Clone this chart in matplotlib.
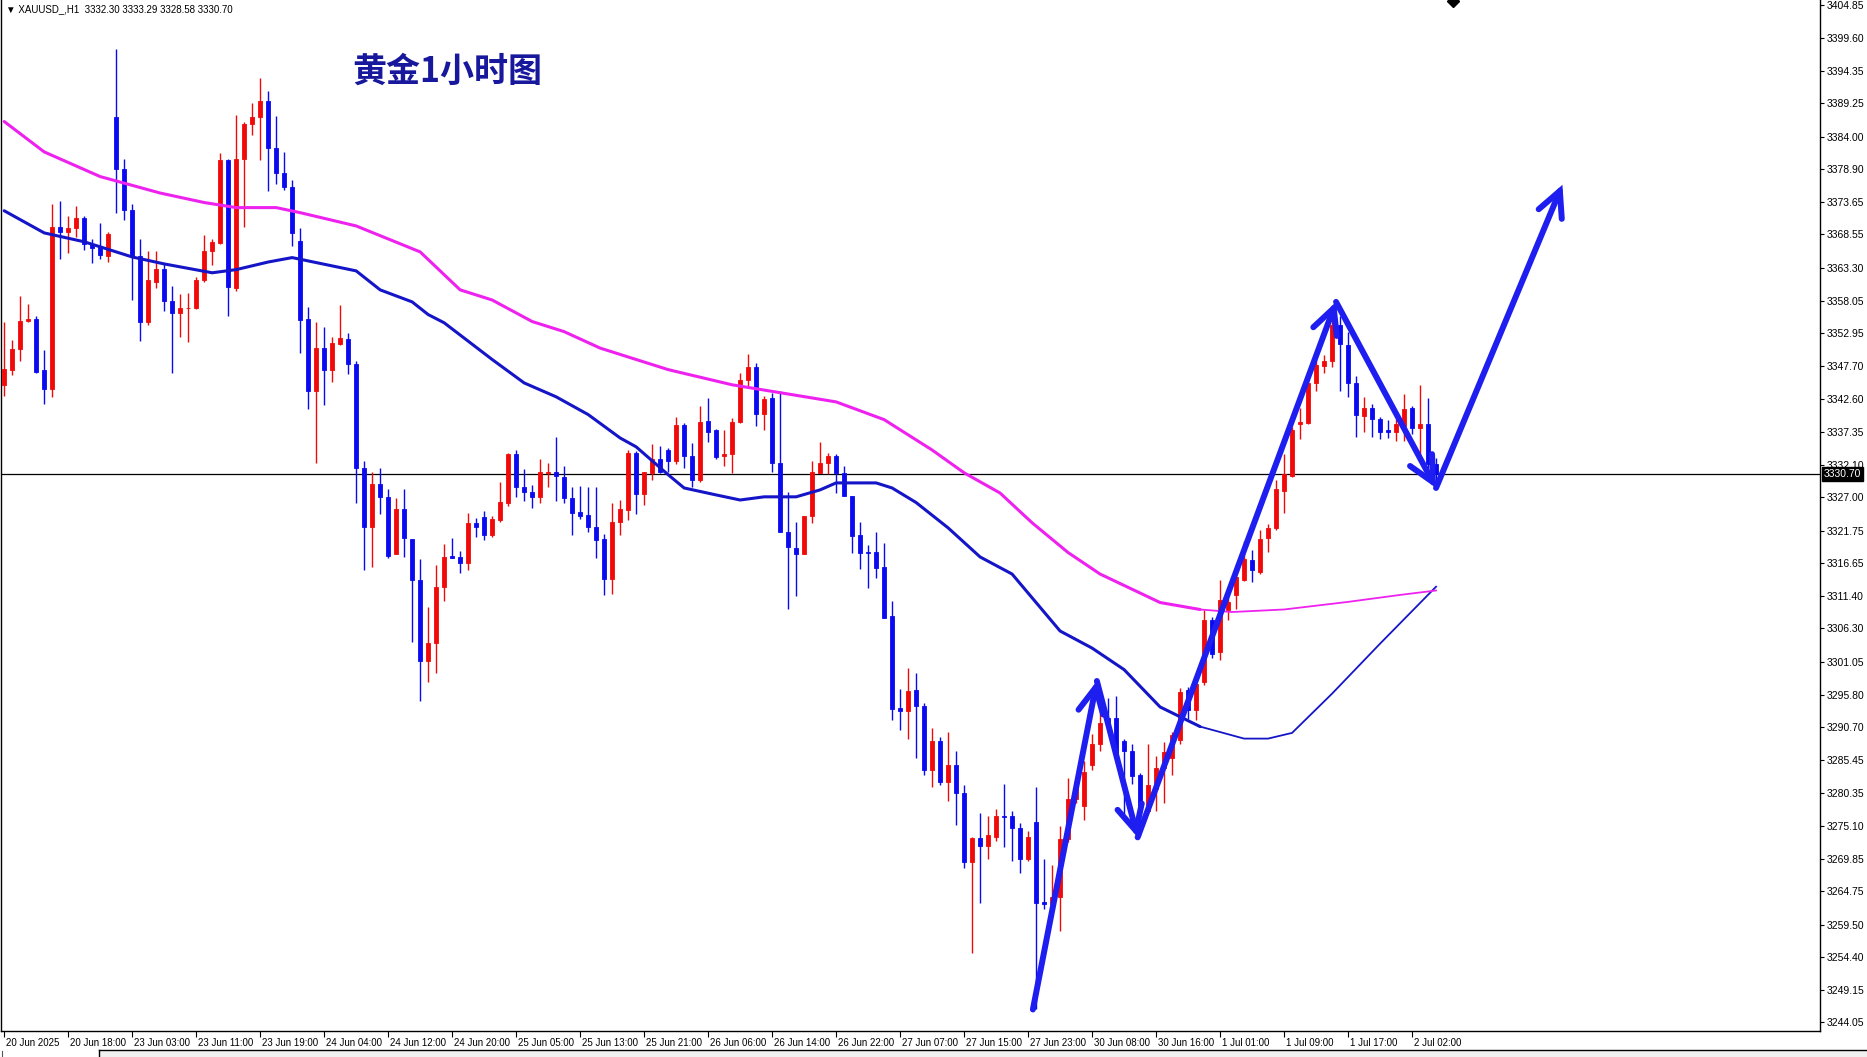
import matplotlib
matplotlib.use('Agg')
import matplotlib.pyplot as plt
import matplotlib.transforms as mtransforms
from matplotlib.lines import Line2D
from matplotlib.patches import Rectangle

# XAUUSD H1 bars (one per hour, 20 Jun 10:00 .. 2 Jul 05:00)
opens = [3344.7, 3347.2, 3350.4, 3354.9, 3355.2, 3347.2, 3344.1, 3369.7, 3368.9, 3369.6,
         3371.1, 3367.1, 3366.7, 3365.2, 3387.1, 3378.9, 3372.4, 3365.1, 3354.8, 3361.1,
         3363.1, 3358.1, 3356.2, 3356.9, 3356.9, 3361.3, 3365.9, 3367.2, 3380.3, 3360.1,
         3380.5, 3386.0, 3387.1, 3389.7, 3382.2, 3378.2, 3376.1, 3367.5, 3355.2, 3343.8,
         3350.6, 3347.1, 3351.3, 3352.0, 3348.1, 3331.7, 3322.4, 3329.1, 3327.0, 3318.1,
         3325.2, 3320.4, 3313.9, 3301.1, 3304.0, 3312.8, 3317.7, 3317.6, 3316.6, 3323.0,
         3323.9, 3321.1, 3323.5, 3326.2, 3333.9, 3328.6, 3327.9, 3327.1, 3330.8, 3331.1,
         3330.3, 3326.9, 3324.7, 3324.3, 3322.3, 3320.4, 3314.1, 3323.2, 3325.0, 3334.0,
         3327.5, 3330.9, 3333.1, 3334.5, 3332.7, 3338.5, 3333.6, 3329.7, 3339.1, 3337.6,
         3333.5, 3333.8, 3338.9, 3345.5, 3347.6, 3340.2, 3342.7, 3332.5, 3321.6, 3319.0,
         3318.1, 3324.1, 3330.9, 3332.4, 3333.5, 3330.9, 3327.2, 3321.1, 3318.4, 3318.4,
         3316.0, 3308.3, 3293.7, 3293.2, 3296.6, 3294.1, 3283.9, 3288.5, 3282.1, 3284.7,
         3280.3, 3269.4, 3273.2, 3272.0, 3273.4, 3276.7, 3276.7, 3274.8, 3269.9, 3275.8,
         3263.1, 3262.7, 3263.8, 3273.0, 3279.3, 3278.2, 3284.7, 3288.0, 3292.2, 3292.2,
         3288.5, 3286.9, 3283.1, 3277.4, 3280.9, 3284.2, 3285.9, 3288.6, 3296.5, 3293.4,
         3297.9, 3307.6, 3302.6, 3309.2, 3311.6, 3314.0, 3317.1, 3315.3, 3320.6, 3322.2,
         3328.0, 3330.4, 3338.6, 3338.8, 3345.1, 3347.8, 3348.5, 3354.3, 3351.1, 3345.1,
         3339.9, 3341.2, 3339.4, 3337.7, 3337.4, 3338.3, 3341.2, 3337.9, 3338.6, 3332.30]
highs = [3354.8, 3351.9, 3358.8, 3357.5, 3355.6, 3350.3, 3373.4, 3373.8, 3371.5, 3373.0,
         3371.4, 3367.8, 3370.4, 3369.0, 3397.8, 3380.5, 3373.4, 3367.9, 3366.0, 3366.0,
         3363.9, 3360.4, 3359.2, 3359.3, 3361.8, 3368.5, 3367.8, 3381.4, 3380.4, 3387.5,
         3386.4, 3389.4, 3393.3, 3391.3, 3387.3, 3381.6, 3377.2, 3369.6, 3357.1, 3354.8,
         3353.9, 3352.4, 3357.4, 3353.0, 3348.5, 3332.7, 3331.0, 3331.6, 3328.3, 3326.9,
         3328.3, 3320.4, 3317.3, 3309.7, 3316.4, 3319.6, 3320.6, 3318.5, 3324.5, 3323.7,
         3324.9, 3324.1, 3329.5, 3334.0, 3334.5, 3331.5, 3329.0, 3333.1, 3332.5, 3336.6,
         3332.0, 3328.7, 3328.8, 3328.7, 3328.7, 3321.3, 3326.1, 3326.6, 3334.5, 3334.3,
         3331.0, 3335.5, 3335.1, 3334.8, 3339.7, 3338.8, 3335.6, 3341.4, 3342.7, 3337.8,
         3337.7, 3339.5, 3346.7, 3349.7, 3348.2, 3343.1, 3343.5, 3343.8, 3327.9, 3323.2,
         3324.1, 3332.7, 3335.7, 3334.1, 3333.9, 3331.9, 3327.2, 3323.2, 3319.5, 3321.5,
         3319.8, 3310.6, 3296.8, 3300.1, 3299.2, 3294.5, 3290.5, 3289.1, 3289.9, 3286.9,
         3281.5, 3273.4, 3277.1, 3276.6, 3277.7, 3281.8, 3277.4, 3275.6, 3274.3, 3281.2,
         3269.9, 3269.0, 3275.1, 3282.6, 3282.8, 3285.3, 3289.6, 3295.3, 3295.3, 3295.6,
         3288.8, 3288.0, 3283.4, 3288.0, 3286.1, 3288.3, 3289.9, 3296.9, 3297.0, 3298.2,
         3309.2, 3308.1, 3314.0, 3311.8, 3315.3, 3320.1, 3318.7, 3321.9, 3322.8, 3329.8,
         3333.9, 3338.1, 3341.2, 3346.5, 3348.8, 3349.5, 3355.7, 3355.7, 3353.2, 3346.2,
         3342.9, 3341.8, 3339.7, 3339.2, 3339.4, 3343.4, 3341.5, 3344.7, 3342.7, 3333.29]
lows = [3343.0, 3346.4, 3348.5, 3354.7, 3346.7, 3341.8, 3342.8, 3364.6, 3365.6, 3368.2,
        3366.1, 3364.0, 3364.6, 3364.2, 3372.0, 3370.9, 3358.2, 3351.7, 3354.3, 3360.1,
        3356.4, 3346.7, 3352.3, 3351.5, 3356.8, 3361.0, 3363.8, 3367.1, 3355.7, 3359.6,
        3369.8, 3384.3, 3380.3, 3375.4, 3376.6, 3375.6, 3366.7, 3349.9, 3341.0, 3332.5,
        3341.6, 3345.3, 3351.1, 3346.5, 3326.2, 3315.5, 3316.0, 3324.4, 3317.4, 3318.0,
        3317.6, 3304.1, 3294.8, 3297.9, 3299.3, 3310.7, 3317.5, 3315.1, 3315.5, 3320.8,
        3320.3, 3320.8, 3323.1, 3325.7, 3327.1, 3326.4, 3325.3, 3326.2, 3328.6, 3326.4,
        3326.1, 3321.1, 3323.6, 3321.6, 3317.4, 3311.6, 3311.8, 3321.1, 3323.5, 3324.4,
        3325.8, 3329.8, 3330.9, 3331.1, 3332.3, 3331.6, 3328.7, 3329.5, 3335.7, 3333.0,
        3332.0, 3330.9, 3338.8, 3344.3, 3338.3, 3337.6, 3331.1, 3321.5, 3309.4, 3311.4,
        3318.0, 3323.0, 3330.9, 3330.7, 3327.7, 3327.2, 3318.3, 3315.7, 3312.7, 3314.3,
        3307.9, 3291.8, 3290.2, 3288.8, 3285.9, 3283.1, 3281.2, 3281.6, 3279.0, 3275.2,
        3268.5, 3255.1, 3262.9, 3269.8, 3272.7, 3271.8, 3269.6, 3267.6, 3269.5, 3246.2,
        3261.9, 3261.9, 3258.5, 3272.5, 3278.7, 3276.1, 3283.9, 3286.9, 3289.9, 3286.1,
        3276.6, 3281.7, 3273.6, 3277.1, 3277.4, 3278.7, 3283.1, 3288.1, 3292.0, 3291.8,
        3297.3, 3301.7, 3301.3, 3307.6, 3309.4, 3313.8, 3313.6, 3314.9, 3318.4, 3321.9,
        3324.5, 3330.2, 3336.2, 3338.6, 3343.8, 3346.7, 3347.6, 3343.8, 3342.9, 3336.5,
        3337.3, 3336.5, 3336.2, 3336.4, 3335.9, 3335.9, 3337.1, 3332.9, 3331.5, 3328.58]
closes = [3347.3, 3350.4, 3354.9, 3355.2, 3346.8, 3344.1, 3369.7, 3368.9, 3369.6, 3371.1,
          3367.1, 3366.4, 3365.3, 3368.7, 3378.9, 3372.4, 3365.1, 3354.8, 3361.3, 3363.1,
          3358.1, 3356.2, 3356.9, 3357.0, 3361.4, 3366.0, 3367.3, 3380.3, 3360.2, 3380.5,
          3386.0, 3387.1, 3389.7, 3382.2, 3378.2, 3376.1, 3368.8, 3355.1, 3343.8, 3350.6,
          3347.2, 3351.4, 3352.2, 3348.1, 3331.7, 3322.4, 3329.1, 3327.0, 3317.8, 3325.2,
          3320.6, 3313.9, 3301.1, 3304.0, 3312.8, 3317.6, 3317.5, 3316.7, 3323.0, 3322.4,
          3321.0, 3323.6, 3326.3, 3333.9, 3328.6, 3327.8, 3327.1, 3331.0, 3331.0, 3330.4,
          3326.9, 3324.6, 3324.1, 3322.3, 3320.2, 3314.1, 3323.2, 3325.1, 3334.0, 3327.5,
          3331.0, 3333.0, 3331.1, 3332.7, 3338.5, 3333.5, 3329.7, 3339.0, 3337.4, 3333.4,
          3333.9, 3338.9, 3345.6, 3347.6, 3340.2, 3342.5, 3332.5, 3321.6, 3319.2, 3318.1,
          3324.1, 3331.0, 3332.4, 3333.5, 3330.9, 3327.2, 3320.9, 3318.3, 3318.3, 3315.8,
          3308.0, 3293.6, 3293.3, 3296.4, 3294.0, 3283.9, 3288.5, 3282.1, 3284.7, 3280.3,
          3269.4, 3273.2, 3272.0, 3273.6, 3276.6, 3276.5, 3274.8, 3269.9, 3273.4, 3262.9,
          3262.7, 3263.8, 3273.0, 3279.4, 3282.0, 3283.6, 3288.0, 3291.4, 3291.4, 3286.5,
          3286.9, 3283.0, 3277.4, 3281.6, 3284.2, 3286.8, 3289.5, 3296.2, 3293.4, 3297.6,
          3307.6, 3302.2, 3310.8, 3310.5, 3314.5, 3317.3, 3315.5, 3320.4, 3322.2, 3328.3,
          3330.7, 3337.7, 3339.0, 3345.1, 3347.9, 3348.6, 3354.3, 3351.3, 3345.1, 3340.1,
          3341.2, 3339.4, 3337.4, 3337.4, 3338.6, 3340.9, 3337.9, 3338.6, 3332.3, 3330.70]

# moving averages (bar index, price)
ma_fast_bars = [0, 5, 10, 16, 20, 26, 29, 33, 36, 44, 47, 51, 53, 55, 61, 65, 69, 73, 77, 79,
                83, 85, 89, 92, 95, 99, 102, 104, 109, 111, 114, 118, 122, 126, 129, 132, 136,
                140, 144.5, 149.5, 155, 158, 161, 166, 172, 179]
ma_fast = [3372.3, 3368.8, 3367.4, 3365.0, 3363.9, 3362.5, 3363.0, 3364.2, 3364.9, 3362.8,
           3359.8, 3357.9, 3355.9, 3354.6, 3348.8, 3345.1, 3342.9, 3340.1, 3336.4, 3335.0,
           3330.6, 3328.5, 3327.4, 3326.6, 3327.1, 3327.1, 3328.2, 3329.3, 3329.3, 3328.5,
           3326.2, 3322.2, 3317.6, 3314.9, 3310.4, 3305.9, 3303.2, 3299.8, 3293.9, 3290.8,
           3288.9, 3288.9, 3289.8, 3296.0, 3303.9, 3312.9]
ma_slow_bars = [0, 5, 12, 19.5, 25, 29, 34, 37, 44, 52, 57, 61, 66, 70, 74.5, 83, 91, 104,
                110, 116, 120, 124.5, 128.5, 133, 137, 144.5, 149.5, 153.5, 160, 168, 174.5, 179]
ma_slow = [3386.4, 3381.6, 3377.7, 3375.1, 3373.6, 3372.8, 3372.8, 3372.0, 3369.9, 3365.8,
           3359.8, 3358.2, 3354.8, 3353.2, 3350.6, 3347.2, 3344.8, 3342.1, 3339.3, 3334.5,
           3330.9, 3327.7, 3323.0, 3318.3, 3314.9, 3310.4, 3309.3, 3308.9, 3309.3, 3310.5,
           3311.6, 3312.3]
split_bar = 149.5

# hand drawn zig-zag arrows (bar index, price)
arrow_bars = [128.6, 136.6, 141.7, 166.5, 179, 194.8]
arrow_prices = [3246.1, 3298.0, 3273.3, 3357.9, 3328.5, 3376.4]

time_labels = ['20 Jun 2025', '20 Jun 18:00', '23 Jun 03:00', '23 Jun 11:00', '23 Jun 19:00',
               '24 Jun 04:00', '24 Jun 12:00', '24 Jun 20:00', '25 Jun 05:00', '25 Jun 13:00',
               '25 Jun 21:00', '26 Jun 06:00', '26 Jun 14:00', '26 Jun 22:00', '27 Jun 07:00',
               '27 Jun 15:00', '27 Jun 23:00', '30 Jun 08:00', '30 Jun 16:00', '1 Jul 01:00',
               '1 Jul 09:00', '1 Jul 17:00', '2 Jul 02:00']
price_ticks = [3404.85, 3399.60, 3394.35, 3389.25, 3384.00, 3378.90, 3373.65, 3368.55,
               3363.30, 3358.05, 3352.95, 3347.70, 3342.60, 3337.35, 3332.10, 3327.00,
               3321.75, 3316.65, 3311.40, 3306.30, 3301.05, 3295.80, 3290.70, 3285.45,
               3280.35, 3275.10, 3269.85, 3264.75, 3259.50, 3254.40, 3249.15, 3244.05]
last_price = 3330.70

UP = '#f00a0a'
DOWN = '#0a0af0'
MA_BLUE = '#1515c8'
MA_MAG = '#ee22ee'
ARROW = '#1e1ef0'

plt.rcParams['font.family'] = ['Liberation Sans', 'DejaVu Sans']

W, H = 1867, 1057
fig = plt.figure(figsize=(W / 100, H / 100), dpi=100)
fig.patch.set_facecolor('white')
ax = fig.add_axes([1 / W, 26 / H, 1819 / W, 1031 / H])

n = len(opens)
xs = list(range(n))
cols = [UP if closes[i] >= opens[i] else DOWN for i in xs]
bottoms = [min(opens[i], closes[i]) for i in xs]
heights = [abs(closes[i] - opens[i]) for i in xs]

ax.vlines(xs, lows, highs, colors=cols, lw=1.0, zorder=2)
ax.bar(xs, heights, bottom=bottoms, width=0.55, color=cols, edgecolor=cols, lw=0.6, zorder=3)

# moving averages, drawn thinner on the most recent stretch
fb = [b for b in ma_fast_bars if b <= split_bar]
ax.plot(fb, ma_fast[:len(fb)], color=MA_BLUE, lw=2.2, zorder=4, solid_capstyle='round')
ax.plot(ma_fast_bars[len(fb) - 1:], ma_fast[len(fb) - 1:], color=MA_BLUE, lw=1.3, zorder=4)
sb = [b for b in ma_slow_bars if b <= split_bar]
ax.plot(sb, ma_slow[:len(sb)], color=MA_MAG, lw=2.2, zorder=4, solid_capstyle='round')
ax.plot(ma_slow_bars[len(sb) - 1:], ma_slow[len(sb) - 1:], color=MA_MAG, lw=1.3, zorder=4)

ax.axhline(last_price, color='black', lw=0.9, zorder=1)

for k in range(len(arrow_bars) - 1):
    ax.annotate('', xy=(arrow_bars[k + 1], arrow_prices[k + 1]),
                xytext=(arrow_bars[k], arrow_prices[k]),
                arrowprops=dict(arrowstyle='->,head_length=0.9,head_width=0.45',
                                color=ARROW, lw=4.3, shrinkA=0, shrinkB=0,
                                mutation_scale=20, capstyle='round', joinstyle='miter'),
                zorder=6)

ax.set_xlim(-0.4, 227)
ax.set_ylim(3242.7, 3405.6)

ax.spines['top'].set_visible(False)
for s in ['left', 'bottom', 'right']:
    ax.spines[s].set_linewidth(1.0)
    ax.spines[s].set_color('black')

ax.yaxis.tick_right()
ax.set_yticks(price_ticks)
ax.set_yticklabels(['%.2f' % v for v in price_ticks])
ax.tick_params(axis='y', direction='out', length=3, width=0.8, pad=2, labelsize=7.5)

ax.set_xticks([8 * k for k in range(len(time_labels))])
ax.set_xticklabels(time_labels)
ax.tick_params(axis='x', direction='out', length=4, width=0.8, pad=1, labelsize=7)
shift = mtransforms.ScaledTranslation(1.5 / 72, 0, fig.dpi_scale_trans)
for lab in ax.get_xticklabels():
    lab.set_ha('left')
    lab.set_transform(lab.get_transform() + shift)

# current price tag on the price scale
ax.text(1.002, last_price, '3330.70', transform=mtransforms.blended_transform_factory(ax.transAxes, ax.transData),
        color='white', fontsize=7.5, va='center', ha='left', zorder=10, clip_on=False,
        bbox=dict(boxstyle='square,pad=0.15', fc='black', ec='black'))

ax.text(0.003, 0.996, '\u25BC XAUUSD_,H1  3332.30 3333.29 3328.58 3330.70', transform=ax.transAxes,
        fontsize=7, va='top', ha='left', color='black')
ax.text(0.193, 0.948, '黄金1小时图', transform=ax.transAxes, fontsize=24.5, fontweight='bold',
        color='#18189c', va='top', ha='left', family=['Noto Sans CJK SC', 'DejaVu Sans'])

# small object marker at the top edge
ax.plot([0.798], [0.999], marker='D', ms=6, color='black', transform=ax.transAxes, clip_on=False)

# terminal tab strip under the chart
fig.add_artist(Line2D([99 / W, 1], [1 - 1050 / H] * 2, color='black', lw=1.0))
fig.add_artist(Line2D([99 / W, 99 / W], [0, 1 - 1050 / H], color='black', lw=1.0))
fig.add_artist(Line2D([2 / W, 2 / W], [0, 1 - 1051 / H], color='#555555', lw=0.8))
fig.add_artist(Rectangle((99 / W, 0), 1 - 99 / W, 1 - 1051 / H, transform=fig.transFigure,
                         fc='#f0f0f0', ec='none'))

fig.savefig('out.png', dpi=100, facecolor='white')
